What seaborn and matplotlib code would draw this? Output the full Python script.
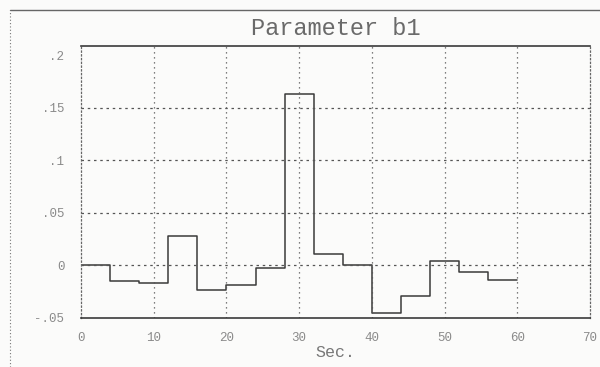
import numpy as np
import pandas as pd
import matplotlib
matplotlib.use("Agg")
import matplotlib.pyplot as plt
import seaborn as sns
from matplotlib.lines import Line2D

# valores (degraus de 4 s)
tempo = [0, 4, 8, 12, 16, 20, 24, 28, 32, 36, 40, 44, 48, 52, 56, 60]
b1 = [0.0, -0.015, -0.017, 0.028, -0.023, -0.019, -0.002, 0.163,
      0.011, 0.0, -0.045, -0.029, 0.004, -0.0065, -0.014, -0.014]
xticks = [0, 10, 20, 30, 40, 50, 60, 70]
yticks = [-0.05, 0, 0.05, 0.1, 0.15, 0.2]
ylabels = ['-.05', '0', '.05', '.1', '.15', '.2']

df = pd.DataFrame({'t': tempo, 'b1': b1})

sns.set_style('white')
plt.rcParams['font.family'] = ['Liberation Mono', 'DejaVu Sans Mono']

fig = plt.figure(figsize=(6, 3.67), dpi=100)
fig.patch.set_facecolor('#fbfbfa')
ax = fig.add_axes([81/600, 1-318/367, (590-81)/600, (318-46)/367])
ax.set_facecolor('#fbfbfa')

sns.lineplot(data=df, x='t', y='b1', drawstyle='steps-post', color='#3a3a3a',
             linewidth=1.1, ax=ax)

ax.set_xlim(0, 70)
ax.set_ylim(-0.05, 0.2086)
ax.set_xticks(xticks)
ax.set_xticklabels([str(v) for v in xticks])
ax.set_yticks(yticks)
ax.set_yticklabels(ylabels)
ax.tick_params(colors='#8a8a8a', labelsize=9, length=0)
ax.tick_params(axis='x', pad=10)
ax.tick_params(axis='y', pad=12)

for v in xticks[1:-1]:
    ax.axvline(v, color='#555555', linestyle=(0, (1, 3)), linewidth=0.9)
for v in [0, 0.05, 0.1, 0.15]:
    ax.axhline(v, color='#555555', linestyle=(0, (2, 3)), linewidth=0.9)

for s in ['left', 'right']:
    ax.spines[s].set_linestyle((0, (1, 2)))
    ax.spines[s].set_color('#666666')
    ax.spines[s].set_linewidth(0.9)
for s in ['top', 'bottom']:
    ax.spines[s].set_color('#3a3a3a')
    ax.spines[s].set_linewidth(1.2)

ax.set_xlabel('Sec.', color='#777777', fontsize=12, labelpad=1)
ax.set_ylabel('')
ax.set_title('Parameter b1', color='#6a6a6a', fontsize=17, pad=8)

# moldura externa
fig.add_artist(Line2D([10/600, 1], [1-10/367, 1-10/367], color='#666666', linewidth=1.0))
fig.add_artist(Line2D([10/600, 10/600], [0, 1-10/367], color='#777777',
                      linewidth=0.8, linestyle=(0, (1, 2))))

fig.savefig('out.png', dpi=100, facecolor=fig.get_facecolor())
